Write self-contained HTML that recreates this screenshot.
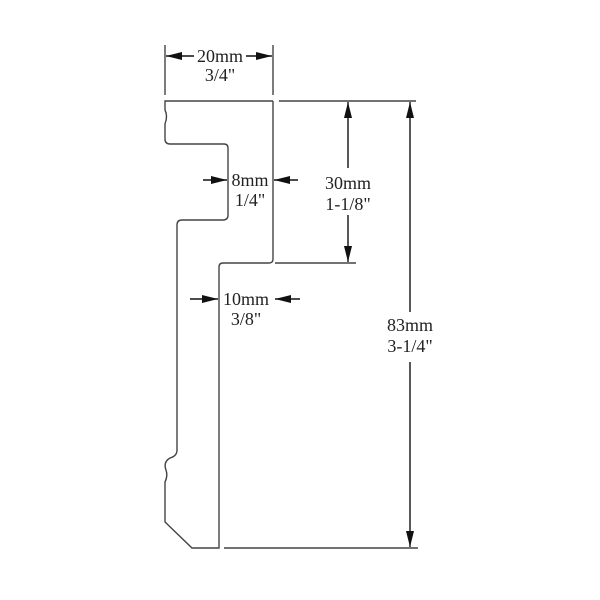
<!DOCTYPE html>
<html><head><style>body{margin:0;background:#fff}svg{display:block}text{font-family:"Liberation Serif",serif;font-size:18px;fill:#222;text-anchor:middle}</style></head>
<body>
<svg width="600" height="600" viewBox="0 0 600 600">
<defs>
<marker id="a" viewBox="0 0 10 10" refX="10" refY="5" markerWidth="16" markerHeight="8" markerUnits="userSpaceOnUse" orient="auto" preserveAspectRatio="none"><path d="M0,0L10,5L0,10z" fill="#111"/></marker>
</defs>
<rect width="600" height="600" fill="#fff"/>
<g fill="none" stroke="#444" stroke-width="1.4">
<path d="M273,101H165V110Q168,116 165,124V139Q165,144 170,144H224Q228,144 228,148V215Q228,220 223,220H182Q177,220 177,225V450Q177,456 170,458Q163,462 166,470Q168,476 165,482V522L192,548H219V267Q219,263 223,263H269Q273,263 273,259V101"/>
<path d="M279,101H416M275,263H356M224,548H418M165,45V95M273,45V95"/>
</g>
<g stroke="#111" stroke-width="1.4" marker-end="url(#a)">
<line x1="194" y1="56" x2="166" y2="56"/>
<line x1="246" y1="56" x2="272" y2="56"/>
<line x1="203" y1="180" x2="227" y2="180"/>
<line x1="298" y1="180" x2="274" y2="180"/>
<line x1="190" y1="299" x2="218" y2="299"/>
<line x1="300" y1="299" x2="275" y2="299"/>
<line x1="348" y1="168" x2="348" y2="102"/>
<line x1="348" y1="215" x2="348" y2="262"/>
<line x1="410" y1="312" x2="410" y2="102"/>
<line x1="410" y1="362" x2="410" y2="547"/>
</g>
<text x="220" y="62">20mm</text><text x="220" y="81">3/4"</text>
<text x="250" y="186">8mm</text><text x="250" y="206">1/4"</text>
<text x="246" y="305">10mm</text><text x="246" y="325">3/8"</text>
<text x="348" y="189">30mm</text><text x="348" y="210">1-1/8"</text>
<text x="410" y="331">83mm</text><text x="410" y="352">3-1/4"</text>
</svg>
</body></html>
